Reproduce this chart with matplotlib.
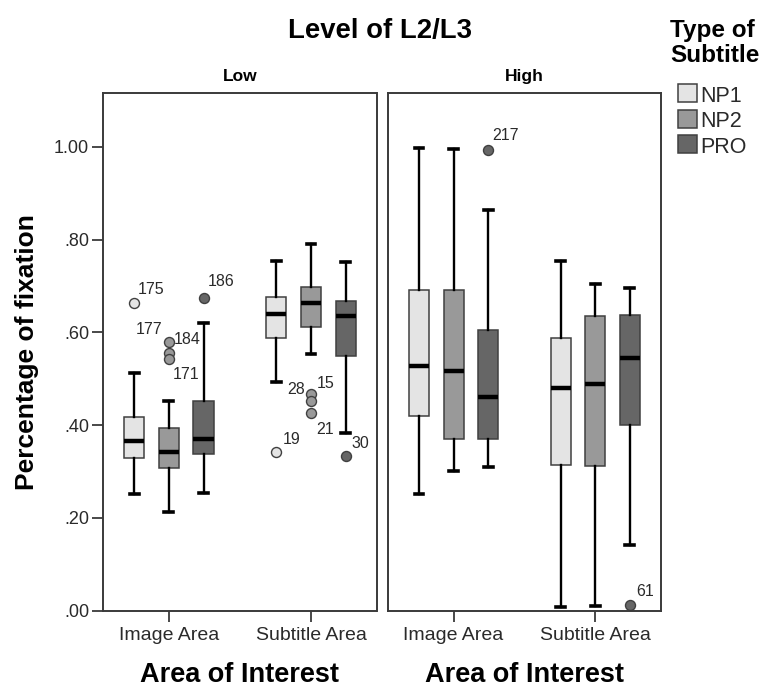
import matplotlib
matplotlib.use('Agg')
import matplotlib.pyplot as plt
from matplotlib.patches import Rectangle

plt.rcParams['font.family'] = ['Liberation Sans', 'DejaVu Sans']

levels = ['Low', 'High']
areas = ['Image Area', 'Subtitle Area']
subtitle_types = ['NP1', 'NP2', 'PRO']

# Five-number summaries per subtitle type: [lower whisker, Q1, median, Q3, upper whisker]
low_image_stats = [[0.251, 0.328, 0.365, 0.418, 0.512],
                   [0.213, 0.307, 0.343, 0.394, 0.451],
                   [0.253, 0.338, 0.370, 0.453, 0.621]]
low_subtitle_stats = [[0.493, 0.588, 0.640, 0.676, 0.753],
                      [0.554, 0.611, 0.663, 0.698, 0.791],
                      [0.384, 0.550, 0.636, 0.668, 0.751]]
high_image_stats = [[0.251, 0.419, 0.528, 0.691, 0.998],
                    [0.300, 0.369, 0.516, 0.691, 0.996],
                    [0.309, 0.369, 0.461, 0.605, 0.863]]
high_subtitle_stats = [[0.007, 0.313, 0.479, 0.587, 0.753],
                       [0.009, 0.312, 0.489, 0.635, 0.705],
                       [0.142, 0.400, 0.544, 0.637, 0.696]]

# Outlying cases and their case numbers
low_image_fliers = [[0.664], [0.579, 0.555, 0.543], [0.674]]
low_image_cases = [['175'], ['177', '184', '171'], ['186']]
low_subtitle_fliers = [[0.343], [0.467, 0.453, 0.427], [0.333]]
low_subtitle_cases = [['19'], ['28', '15', '21'], ['30']]
high_image_fliers = [[], [], [0.993]]
high_image_cases = [[], [], ['217']]
high_subtitle_fliers = [[], [], [0.011]]
high_subtitle_cases = [[], [], ['61']]

y_ticks = [0.0, 0.2, 0.4, 0.6, 0.8, 1.0]
y_tick_labels = ['.00', '.20', '.40', '.60', '.80', '1.00']

# Styling
fills = ['#e4e4e4', '#999999', '#666666']
edge = '#404040'
spine_color = '#3a3a3a'
text_color = '#2a2a2a'
offset_step = 0.244
box_width = 0.141

# Case label placement (pixel offsets from the marker, horizontal alignment)
label_offsets = {
    '175': (4, 9, 'left'), '186': (4, 12, 'left'),
    '177': (-6, 8, 'right'), '184': (5, 9, 'left'), '171': (4, -20, 'left'),
    '28': (-6, 0, 'right'), '15': (6, 13, 'left'), '21': (5, -21, 'left'),
    '19': (6, 8, 'left'), '30': (6, 8, 'left'),
    '217': (4, 10, 'left'), '61': (6, 9, 'left'),
}

W, H = 763, 687
fig = plt.figure(figsize=(W / 100, H / 100), dpi=100)


def fx(px):
    return px / W


def fy(py):
    return 1 - py / H


ax_low = fig.add_axes([fx(103), fy(610.5), fx(376.5) - fx(103), fy(93) - fy(610.5)])
ax_high = fig.add_axes([fx(388), fy(610.5), fx(660.5) - fx(388), fy(93) - fy(610.5)])

panel_data = {
    'Low': ([low_image_stats, low_subtitle_stats],
            [low_image_fliers, low_subtitle_fliers],
            [low_image_cases, low_subtitle_cases]),
    'High': ([high_image_stats, high_subtitle_stats],
             [high_image_fliers, high_subtitle_fliers],
             [high_image_cases, high_subtitle_cases]),
}

for ax, level in zip([ax_low, ax_high], levels):
    stats_by_area, fliers_by_area, cases_by_area = panel_data[level]
    for k, stype in enumerate(subtitle_types):
        offset = (k - 1) * offset_step
        positions = [g + offset for g in range(len(areas))]
        stats = []
        for g in range(len(areas)):
            lo, q1, med, q3, hi = stats_by_area[g][k]
            stats.append(dict(whislo=lo, q1=q1, med=med, q3=q3, whishi=hi,
                              fliers=fliers_by_area[g][k], label=stype))
        ax.bxp(stats, positions=positions, widths=box_width, patch_artist=True,
               capwidths=0.062, manage_ticks=False,
               boxprops=dict(facecolor=fills[k], edgecolor=edge, linewidth=1.1),
               medianprops=dict(color='black', linewidth=3.2),
               whiskerprops=dict(color='black', linewidth=1.7),
               capprops=dict(color='black', linewidth=2.6),
               flierprops=dict(marker='o', markerfacecolor=fills[k],
                               markeredgecolor=edge, markersize=7.2,
                               markeredgewidth=1.0, linestyle='none'))
        for g in range(len(areas)):
            for val, case in zip(fliers_by_area[g][k], cases_by_area[g][k]):
                dx, dy, ha = label_offsets[case]
                ax.annotate(case, (positions[g], val), xytext=(dx, dy),
                            textcoords='offset pixels', ha=ha, va='baseline',
                            fontsize=11.5, color=text_color)

    ax.set_xlim(-0.463, 1.461)
    ax.set_ylim(0, 1.1165)
    ax.set_xticks(range(len(areas)))
    ax.set_xticklabels(areas)
    for s in ax.spines.values():
        s.set_color(spine_color)
        s.set_linewidth(1.4)
    ax.tick_params(axis='x', direction='out', length=8, width=1.3,
                   color=spine_color, labelsize=14, labelcolor=text_color, pad=4)
    ax.set_xlabel('Area of Interest', fontsize=19.5, fontweight='bold')
    ax.xaxis.set_label_coords(0.5, -0.1)
    ax.text(0.5, 1 + 12 / 517.5, level, transform=ax.transAxes, ha='center',
            va='baseline', fontsize=12.5, fontweight='bold')

ax_low.set_yticks(y_ticks)
ax_low.set_yticklabels(y_tick_labels)
ax_low.tick_params(axis='y', direction='out', length=8, width=1.3,
                   color=spine_color, labelsize=13, labelcolor=text_color, pad=2)
ax_low.set_ylabel('Percentage of fixation', fontsize=19, fontweight='bold')
ax_low.yaxis.set_label_coords(-0.235, 0.5)

ax_high.set_yticks([])
ax_high.tick_params(axis='y', left=False, labelleft=False)

fig.text(fx(380), fy(37.7), 'Level of L2/L3', ha='center', va='baseline',
         fontsize=19.8, fontweight='bold')

# Legend
fig.text(fx(670), fy(37.5), 'Type of', ha='left', va='baseline',
         fontsize=17.5, fontweight='bold')
fig.text(fx(670), fy(61.5), 'Subtitle', ha='left', va='baseline',
         fontsize=17.5, fontweight='bold')
for k, stype in enumerate(subtitle_types):
    top = 84 + k * 25.5
    fig.add_artist(Rectangle((fx(678), fy(top + 18)), fx(19), 18 / H,
                             transform=fig.transFigure, facecolor=fills[k],
                             edgecolor=edge, linewidth=1.1))
    fig.text(fx(700.5), fy(top + 17.7), stype, ha='left', va='baseline',
             fontsize=15.5, color=text_color)

fig.savefig('out.png', dpi=100)
